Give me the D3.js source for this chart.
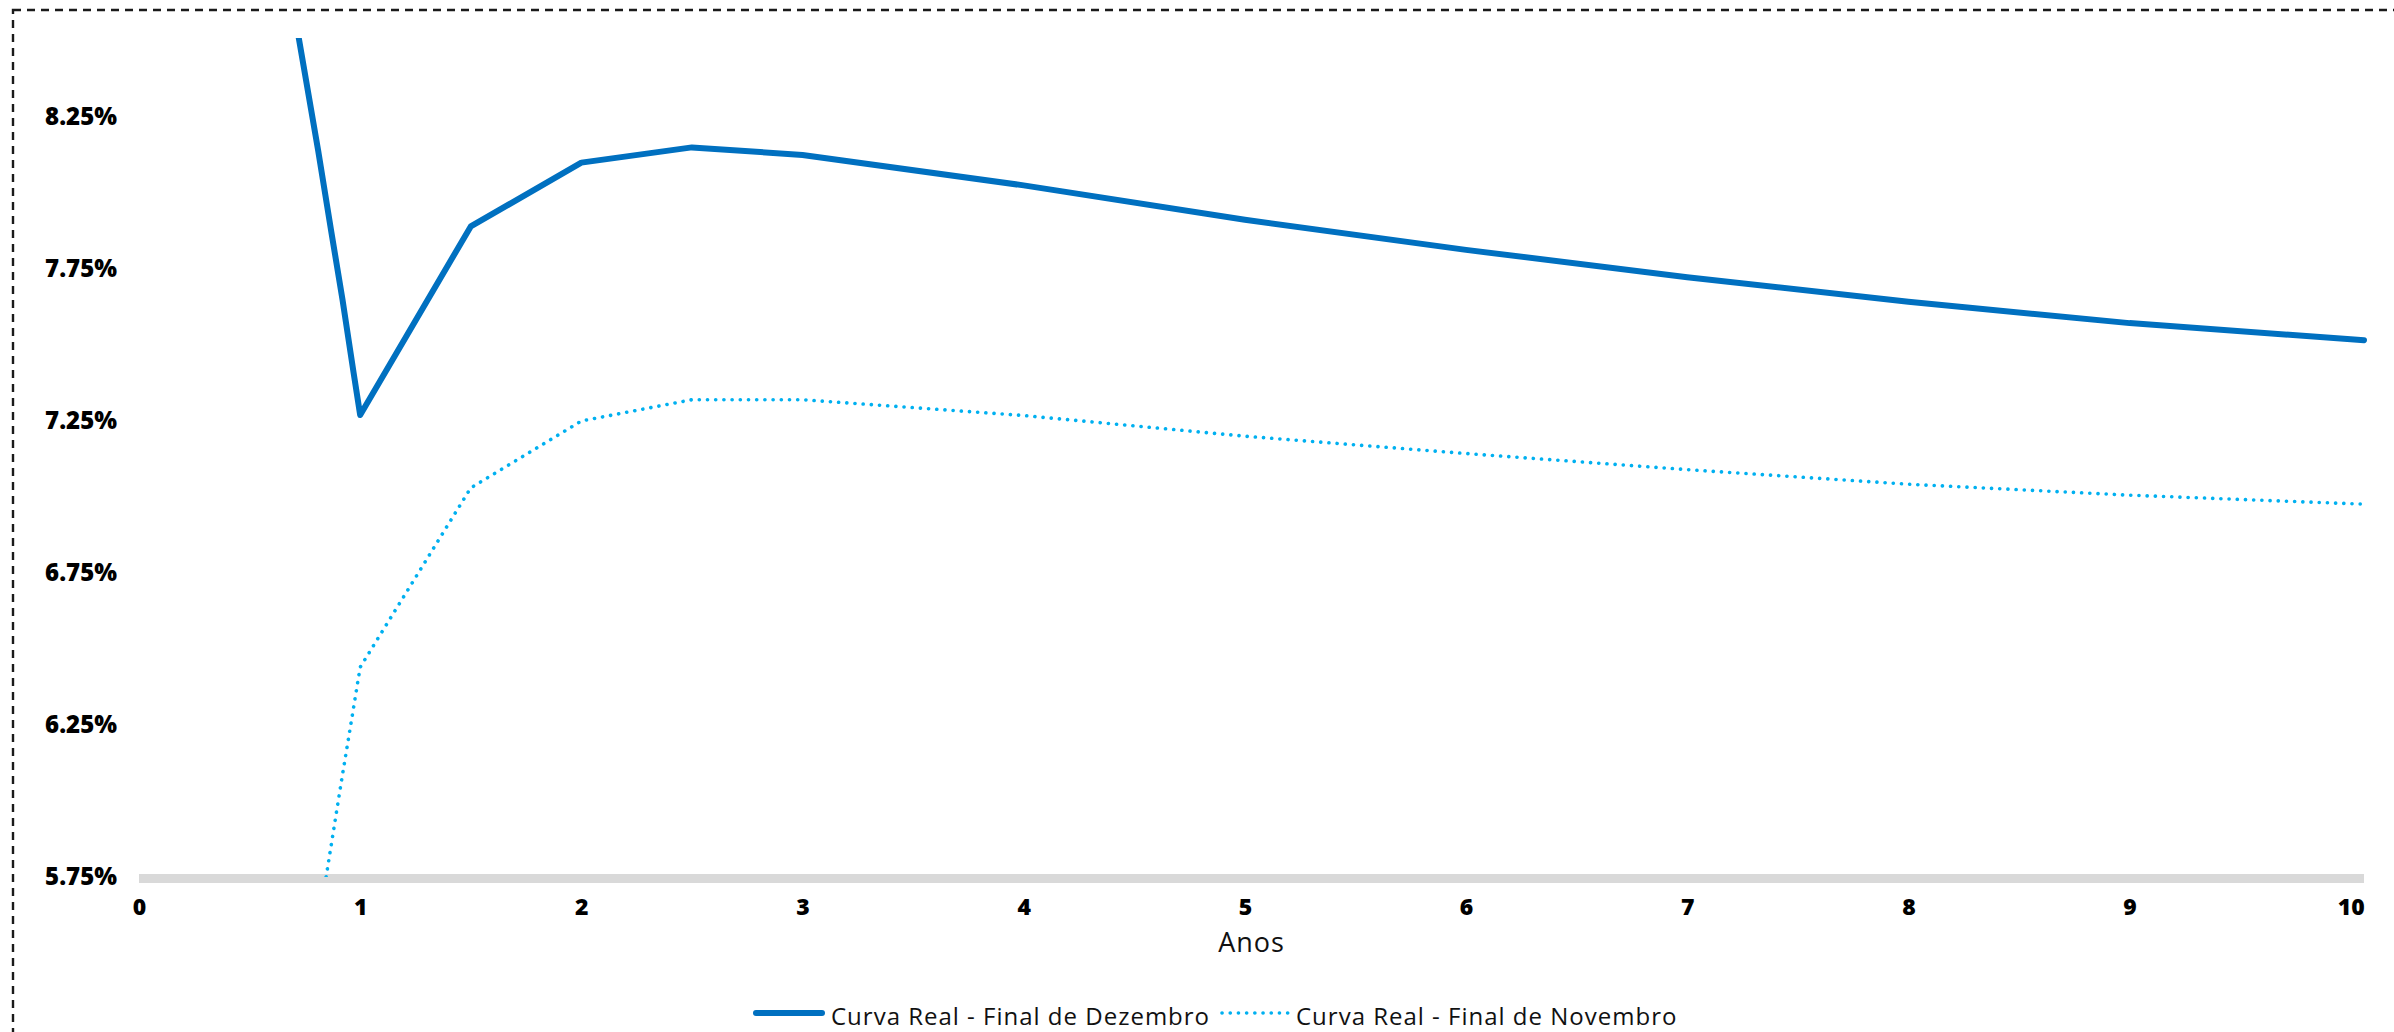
<!DOCTYPE html>
<html>
<head>
<meta charset="utf-8">
<script src="https://cdn.jsdelivr.net/npm/d3@7/dist/d3.min.js"></script>
<style>
  html, body { margin: 0; padding: 0; background: #ffffff; }
  svg { display: block; }
  .ylab text { font-family: "Open Sans", sans-serif; font-weight: 800; font-size: 24px; fill: #000; }
  .xlab text { font-family: "Open Sans", sans-serif; font-weight: 800; font-size: 23px; fill: #000; }
</style>
</head>
<body>
<svg id="chart" width="2394" height="1032"></svg>
<script>
// Curva real (juros reais) por prazo em anos
const anosDez = [0.72, 0.81, 0.87, 0.92, 0.97, 1.0, 1.5, 2.0, 2.5, 3.0, 4, 5, 6, 7, 8, 9, 10, 10.06];
const taxaDez = [8.52, 8.14, 7.87, 7.65, 7.41, 7.27, 7.89, 8.10, 8.15, 8.125, 8.025, 7.912, 7.813, 7.723, 7.642, 7.572, 7.519, 7.516];

const anosNov = [0.846, 0.914, 0.964, 1.0, 1.5, 2.0, 2.5, 3.0, 4, 5, 6, 7, 8, 9, 10, 10.05];
const taxaNov = [5.75, 6.06, 6.28, 6.44, 7.03, 7.25, 7.32, 7.32, 7.268, 7.20, 7.143, 7.09, 7.042, 7.006, 6.978, 6.977];

const yTicks = [5.75, 6.25, 6.75, 7.25, 7.75, 8.25];
const xTicks = [0, 1, 2, 3, 4, 5, 6, 7, 8, 9, 10];

const seriesNames = ["Curva Real - Final de Dezembro", "Curva Real - Final de Novembro"];

const svg = d3.select("#chart");

// dashed frame
svg.append("rect")
  .attr("x", 13).attr("y", 10)
  .attr("width", 2500).attr("height", 1100)
  .attr("fill", "none")
  .attr("stroke", "#1a1a1a")
  .attr("stroke-width", 2.4)
  .attr("stroke-dasharray", "8 6");

const x = d3.scaleLinear().domain([0, 10.06]).range([139, 2364]);
const y = d3.scaleLinear().domain([5.75, 8.25]).range([877, 117]);

// clip region for the plotted curves
svg.append("clipPath").attr("id", "plotClip")
  .append("rect")
  .attr("x", x(0)).attr("y", y(8.51))
  .attr("width", x(10.06) - x(0) + 10)
  .attr("height", y(5.75) - y(8.51));

// y axis labels
const yAxis = d3.axisLeft(y)
  .tickValues(yTicks)
  .tickSize(0)
  .tickPadding(22)
  .tickFormat(d => d.toFixed(2) + "%");
const gy = svg.append("g").attr("class", "ylab")
  .attr("transform", `translate(${x(0)},0)`)
  .call(yAxis);
gy.select(".domain").remove();

// x axis with thick grey base line
const xAxis = d3.axisBottom(x)
  .tickValues(xTicks)
  .tickSize(0)
  .tickPadding(20)
  .tickFormat(d3.format("d"));
const gx = svg.append("g").attr("class", "xlab")
  .attr("transform", `translate(0,${y(5.75) + 1.5})`)
  .call(xAxis);
gx.select(".domain")
  .attr("stroke", "#d9d9d9")
  .attr("stroke-width", 9)
  .attr("d", `M${x(0)},0H${x(10.06)}`);

// axis title
svg.append("text")
  .attr("x", (x(0) + x(10.06)) / 2)
  .attr("y", 952)
  .attr("text-anchor", "middle")
  .attr("font-family", "'Open Sans', sans-serif")
  .attr("font-size", 27)
  .attr("letter-spacing", 1)
  .attr("fill", "#111")
  .text("Anos");

const line = d3.line().x(d => x(d[0])).y(d => y(d[1]));

const plot = svg.append("g").attr("clip-path", "url(#plotClip)");

plot.append("path")
  .datum(d3.zip(anosNov, taxaNov))
  .attr("d", line)
  .attr("fill", "none")
  .attr("stroke", "#00b0f0")
  .attr("stroke-width", 3.6)
  .attr("stroke-linecap", "round")
  .attr("stroke-dasharray", "0.1 8.1");

plot.append("path")
  .datum(d3.zip(anosDez, taxaDez))
  .attr("d", line)
  .attr("fill", "none")
  .attr("stroke", "#0070c0")
  .attr("stroke-width", 6)
  .attr("stroke-linejoin", "round")
  .attr("stroke-linecap", "round");

// legend
const legend = svg.append("g");
const legendItems = [
  { name: seriesNames[0], x0: 756, x1: 822, tx: 831, color: "#0070c0", w: 6, dash: null },
  { name: seriesNames[1], x0: 1222, x1: 1289, tx: 1296, color: "#00b0f0", w: 3.6, dash: "0.1 8.1" }
];
legendItems.forEach(it => {
  const l = legend.append("line")
    .attr("x1", it.x0).attr("x2", it.x1)
    .attr("y1", 1013).attr("y2", 1013)
    .attr("stroke", it.color)
    .attr("stroke-width", it.w)
    .attr("stroke-linecap", "round");
  if (it.dash) l.attr("stroke-dasharray", it.dash);
  legend.append("text")
    .attr("x", it.tx).attr("y", 1025)
    .attr("font-family", "'Open Sans', sans-serif")
    .attr("font-size", 24)
    .attr("letter-spacing", 1)
    .attr("fill", "#111")
    .text(it.name);
});
</script>
</body>
</html>
